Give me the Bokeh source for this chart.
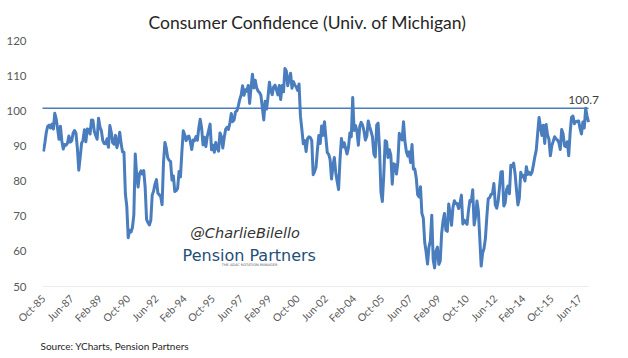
import math
from bokeh.plotting import figure
from bokeh.models import Range1d, FixedTicker, Label, ColumnDataSource, Title
from bokeh.embed import file_html
from bokeh.resources import INLINE

# Monthly University of Michigan consumer sentiment, Oct-1985 .. Dec-2017
values = [
    88.4, 90.9, 93.9,
    95.6, 95.9, 95.1, 96.2, 94.8, 99.3, 97.7, 94.9, 91.9, 95.6, 91.4, 89.1,
    90.4, 90.2, 90.8, 92.8, 91.1, 91.5, 93.7, 94.4, 93.6, 89.3, 83.1, 86.8,
    90.8, 91.6, 94.6, 91.2, 94.8, 94.7, 93.4, 97.4, 97.3, 94.1, 93.0, 91.9,
    97.9, 95.4, 94.3, 91.5, 90.7, 90.6, 92.0, 89.6, 95.8, 93.9, 90.9, 90.5,
    93.0, 89.5, 91.3, 93.9, 90.6, 88.3, 88.2, 76.4, 72.8, 63.9, 66.0, 65.5,
    66.8, 70.4, 87.7, 81.8, 78.3, 82.1, 82.9, 82.0, 83.0, 78.3, 69.1, 68.2,
    67.5, 68.8, 76.0, 77.2, 79.2, 80.4, 76.6, 76.1, 75.6, 73.3, 85.3, 91.0,
    89.3, 86.6, 85.9, 85.6, 80.3, 81.5, 77.0, 77.3, 77.9, 82.7, 81.2, 88.2,
    94.3, 93.2, 91.5, 92.6, 92.8, 91.2, 89.0, 91.7, 91.5, 92.7, 91.6, 95.1,
    97.6, 95.1, 90.3, 92.5, 89.8, 92.7, 94.4, 96.2, 88.9, 90.2, 88.2, 91.0,
    89.3, 88.5, 93.7, 92.7, 89.4, 92.4, 94.7, 95.3, 94.7, 96.5, 99.2, 96.9,
    97.4, 99.7, 100.0, 101.4, 103.2, 104.5, 107.1, 104.4, 106.0, 105.6, 107.2, 102.1,
    106.6, 110.4, 106.5, 108.7, 106.5, 105.6, 105.2, 104.4, 100.9, 97.4, 102.7, 100.5,
    103.9, 108.1, 105.7, 104.6, 106.8, 107.3, 106.0, 104.5, 107.2, 103.2, 107.2, 105.4,
    112.0, 111.3, 107.1, 109.2, 110.7, 106.4, 108.3, 107.3, 106.8, 105.8, 107.6, 98.4,
    94.7, 90.6, 91.5, 88.4, 92.0, 92.6, 92.4, 91.5, 81.8, 82.7, 83.9, 88.8,
    93.0, 90.7, 95.7, 93.0, 96.9, 92.4, 88.1, 87.6, 86.1, 80.6, 84.2, 86.7,
    82.4, 79.9, 77.6, 86.0, 92.1, 89.7, 90.9, 89.3, 87.7, 89.6, 93.7, 92.6,
    103.8, 94.4, 95.8, 94.2, 90.2, 95.6, 96.7, 95.9, 94.2, 91.7, 92.8, 97.1,
    95.5, 94.1, 92.6, 87.7, 86.9, 96.0, 96.5, 89.1, 76.9, 74.2, 81.6, 91.5,
    91.2, 86.7, 88.9, 87.4, 79.1, 84.9, 84.7, 82.0, 85.4, 93.6, 92.1, 91.7,
    96.9, 91.3, 88.4, 87.1, 88.3, 85.3, 90.4, 83.4, 83.4, 80.9, 76.1, 75.5,
    78.4, 70.8, 69.5, 62.6, 59.8, 56.4, 61.2, 63.0, 70.3, 57.6, 55.3, 60.1,
    61.2, 56.3, 57.3, 65.1, 68.7, 70.8, 66.0, 65.7, 73.5, 70.6, 67.4, 72.5,
    74.4, 73.6, 73.6, 72.2, 73.6, 76.0, 67.8, 68.9, 68.2, 67.7, 71.6, 74.5,
    74.2, 77.5, 67.5, 69.8, 74.3, 71.5, 63.7, 55.8, 59.5, 60.8, 63.7, 69.9,
    75.0, 75.3, 76.2, 76.4, 79.3, 73.2, 72.3, 74.3, 78.3, 82.6, 82.7, 72.9,
    73.8, 77.6, 78.6, 76.4, 84.5, 84.1, 85.1, 82.1, 77.5, 73.2, 75.1, 82.5,
    81.2, 81.6, 80.0, 84.1, 81.9, 82.5, 81.8, 82.5, 84.6, 86.9, 88.8, 93.6,
    98.1, 95.4, 93.0, 95.9, 90.7, 96.1, 93.1, 91.9, 87.2, 90.0, 91.3, 92.6,
    92.0, 91.7, 91.0, 89.0, 94.7, 93.5, 90.0, 89.8, 91.2, 87.2, 93.8, 98.2,
    98.5, 96.3, 96.9, 97.0, 97.1, 95.0, 93.4, 96.8, 95.1, 100.7, 98.5, 96.8,
]

tick_labels = ["Oct-85", "Jun-87", "Feb-89", "Oct-90", "Jun-92", "Feb-94", "Oct-95",
               "Jun-97", "Feb-99", "Oct-00", "Jun-02", "Feb-04", "Oct-05", "Jun-07",
               "Feb-09", "Oct-10", "Jun-12", "Feb-14", "Oct-15", "Jun-17"]
tick_step = 20  # months between labels
y_ticks = [50, 60, 70, 80, 90, 100, 110, 120]
recent_peak = 100.7
peak_index = values.index(recent_peak)

months = list(range(len(values)))
tick_pos = [i * tick_step for i in range(len(tick_labels))]

BLUE = "#4a7dbe"
GREY = "#595959"
FONT = "Lato"

x0 = -0.7
p = figure(width=628, height=358, output_backend="svg", toolbar_location=None,
           x_range=Range1d(x0, 394.5), y_range=Range1d(y_ticks[0], y_ticks[-1]),
           min_border_left=42, min_border_right=28, min_border_top=40,
           min_border_bottom=72)
p.outline_line_color = None
p.background_fill_color = "white"
p.border_fill_color = "white"
p.xgrid.visible = False
p.ygrid.visible = False

# title
p.title.text = "Consumer  Confidence (Univ. of Michigan)"
p.title.align = "left"
p.title.offset = 106
p.title.standoff = 16
p.title.text_font = FONT
p.title.text_font_size = "17.5px"
p.title.text_font_style = "normal"
p.title.text_color = "#262626"

# baseline (category axis line) and recent-peak reference line
p.segment(x0=[x0], y0=[y_ticks[0]], x1=[months[-1]], y1=[y_ticks[0]],
          line_color="#d9d9d9", line_width=1)
p.segment(x0=[x0 - 2], y0=[recent_peak], x1=[months[-1]], y1=[recent_peak],
          line_color=BLUE, line_width=1.5)

src = ColumnDataSource(dict(x=months, y=values))
p.line("x", "y", source=src, line_color=BLUE, line_width=3, line_join="round")

# axes
p.xaxis.ticker = FixedTicker(ticks=tick_pos)
p.xaxis.major_label_overrides = {t: l for t, l in zip(tick_pos, tick_labels)}
p.xaxis.major_label_orientation = math.pi / 4
p.xaxis.axis_line_color = None
p.xaxis.major_tick_line_color = None
p.xaxis.minor_tick_line_color = None
p.xaxis.major_label_text_font = FONT
p.xaxis.major_label_text_font_size = "10.5px"
p.xaxis.major_label_text_color = GREY
p.xaxis.major_label_standoff = 4

p.yaxis.ticker = FixedTicker(ticks=y_ticks)
p.yaxis.axis_line_color = None
p.yaxis.major_tick_line_color = None
p.yaxis.minor_tick_line_color = None
p.yaxis.major_label_text_font = FONT
p.yaxis.major_label_text_font_size = "11.5px"
p.yaxis.major_label_text_color = GREY
p.yaxis.major_label_standoff = 10

# peak annotation
p.add_layout(Label(x=peak_index, y=recent_peak, text="100.7", text_align="center",
                   text_baseline="bottom", y_offset=4, x_offset=-2,
                   text_font=FONT, text_font_size="12px", text_color="#404040"))

# watermark
p.add_layout(Label(x=104, y=65.1, text="@CharlieBilello", text_align="left",
                   text_baseline="middle", text_font="DejaVu Sans",
                   text_font_style="italic", text_font_size="14.5px", text_color="#333333"))
p.add_layout(Label(x=98.5, y=58.8, text="Pension Partners", text_align="left",
                   text_baseline="middle", text_font="DejaVu Sans",
                   text_font_size="16px", text_color="#1f4e79"))
p.add_layout(Label(x=146, y=56.0, text="THE ADAC ROTATION MANAGER", text_align="center",
                   text_baseline="middle", text_font="DejaVu Sans",
                   text_font_size="3.5px", text_color="#555555"))

# source
src_title = Title(text="Source: YCharts, Pension Partners", align="left", offset=-2,
                  standoff=12, text_font=FONT, text_font_size="10px",
                  text_font_style="normal", text_color="#262626")
p.add_layout(src_title, "below")

open("out.html", "w").write(file_html(p, INLINE))
